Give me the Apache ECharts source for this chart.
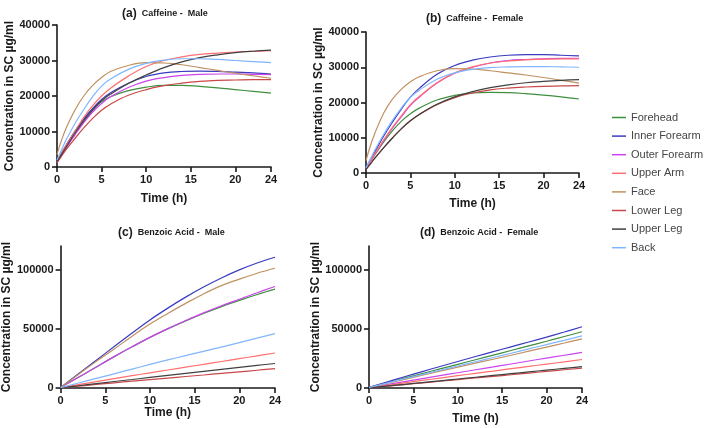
<!DOCTYPE html>
<html><head><meta charset="utf-8">
<script src="https://cdn.jsdelivr.net/npm/echarts@6/dist/echarts.min.js"></script>
<style>html,body{margin:0;padding:0;background:#fff}#c{width:709px;height:428px}</style>
</head><body><div id="c"></div>
<script>
// ---- data ----
const sites = ['Forehead','Inner Forearm','Outer Forearm','Upper Arm','Face','Lower Leg','Upper Leg','Back'];
const siteColors = ['#3f8f3f','#3b3bc0','#cc44ee','#ff6f6f','#c09060','#c84848','#404040','#80b6ff'];

const timeCaffeine = [0,0.5,1,2,3,4,5,6,8,10,12,14,16,18,20,22,24];
const timeBenzoic  = [0,2,4,6,8,10,12,14,16,18,20,22,24];
const xTicks = [0,5,10,15,20,24];
const yTicksCaffeine = [0,10000,20000,30000,40000];
const yTicksBenzoic = [0,50000,100000];

// rows follow the order of `sites`
const caffeineMale = [
  [1500,3800,6000,10000,13500,16300,18400,19800,21500,22500,23000,23000,22700,22300,21800,21300,20800],
  [1500,3800,6000,10000,13500,16500,19000,20900,23600,25500,26500,26900,27000,26900,26700,26500,26200],
  [1300,3300,5300,9000,12500,15500,17900,19800,22400,24200,25200,25800,26100,26200,26200,26100,26000],
  [1500,3800,6000,10000,14000,17300,20000,22200,25600,28300,30000,31000,31700,32100,32400,32600,32800],
  [3500,7500,10800,16000,20000,23000,25200,26900,28600,29400,29300,28800,28000,27200,26400,25700,25000],
  [1200,3000,4800,8000,11000,13700,16000,17700,20200,21800,22900,23600,24100,24400,24500,24600,24600],
  [1500,3500,5500,9500,13000,16000,18700,20500,23500,25900,28000,29600,30800,31600,32200,32600,32900],
  [2000,4800,7500,12200,16200,19800,22800,24800,27500,29200,30100,30500,30500,30300,30000,29700,29400]
];
const caffeineFemale = [
  [1300,3300,5200,8800,12000,14700,16800,18400,20700,22000,22700,22900,22800,22500,22100,21600,21000],
  [1500,3800,6000,10500,14500,18200,21500,24000,28000,30500,32000,32900,33400,33600,33600,33400,33200],
  [1200,3300,5300,9200,12800,16000,19200,21500,25500,28300,30000,31200,31900,32200,32400,32500,32500],
  [1300,3400,5500,9400,13000,16300,19400,21700,25600,28400,30100,31200,31800,32100,32300,32400,32400],
  [3500,7800,11300,17000,21000,23800,25900,27300,29000,29600,29500,29000,28400,27800,27100,26300,25500],
  [1000,2600,4200,7200,10000,12600,14800,16600,19400,21400,22700,23600,24100,24400,24600,24700,24800],
  [1000,2600,4200,7200,10000,12600,14800,16600,19500,21600,23100,24200,25000,25600,26000,26300,26500],
  [1500,4000,6500,11000,15000,18500,21500,23500,26600,28400,29400,29900,30100,30200,30200,30100,30000]
];
const benzoicMale = [
  [500,9000,17800,26500,34800,42800,50000,56700,63000,68800,74000,79000,83500],
  [500,12000,23500,35000,46500,57500,67500,76800,85300,93000,99800,105600,110500],
  [500,9000,17800,26500,34800,42800,50200,57000,63500,69500,75000,80500,85800],
  [200,2800,5400,7900,10400,12800,15200,17600,20000,22400,24800,27200,29600],
  [500,11500,22500,33000,43800,54000,63000,71500,79500,86500,92000,97000,101200],
  [200,1600,3000,4400,5800,7100,8400,9700,11000,12400,13700,15000,16400],
  [200,1900,3700,5500,7200,8900,10600,12300,14000,15700,17400,19100,20700],
  [300,4200,8200,12000,16000,19900,23700,27400,31000,34600,38300,42200,46000]
];
const benzoicFemale = [
  [400,4300,8300,12200,16100,20000,23900,27800,31700,35600,39500,43500,47500],
  [500,5000,9500,13900,18200,22400,26600,30700,34800,38900,43000,47300,51800],
  [300,2800,5400,7900,10400,12900,15400,17800,20300,22800,25300,27700,30100],
  [200,2200,4300,6400,8400,10400,12400,14300,16300,18200,20200,22100,24100],
  [400,3800,7300,10800,14300,17700,21000,24300,27700,31100,34600,38000,41500],
  [100,1500,2900,4300,5700,7100,8500,9800,11200,12600,14000,15400,16800],
  [100,1600,3100,4600,6100,7600,9100,10600,12100,13600,15100,16600,18000],
  [400,4100,7800,11400,15000,18600,22200,25800,29400,33000,36700,40300,44000]
];

const panels = [
  {tag:'(a)', label:'Caffeine -  Male', time:timeCaffeine, rows:caffeineMale, yTicks:yTicksCaffeine, yMax:40000},
  {tag:'(b)', label:'Caffeine -  Female', time:timeCaffeine, rows:caffeineFemale, yTicks:yTicksCaffeine, yMax:40000},
  {tag:'(c)', label:'Benzoic Acid -  Male', time:timeBenzoic, rows:benzoicMale, yTicks:yTicksBenzoic, yMax:120000},
  {tag:'(d)', label:'Benzoic Acid -  Female', time:timeBenzoic, rows:benzoicFemale, yTicks:yTicksBenzoic, yMax:120000}
];

// ---- layout / style ----
const FONT = '"Liberation Sans", Arial, sans-serif';
const grids = [
  {left:57, top:25, width:214, height:142},
  {left:366, top:32, width:213, height:141},
  {left:60, top:246, width:215, height:142},
  {left:369, top:246, width:213, height:142}
];
const titlePos = [{left:117, top:0},{left:421, top:5},{left:113, top:219},{left:415, top:219}];
const xNameGap = [26, 25, 18, 25];
const yNameGap = [37, 39, 46, 44];

const axisLineStyle = {color:'#1a1a1a', width:1.6};
const option = {
  animation:false,
  backgroundColor:'#fff',
  textStyle:{fontFamily:FONT},
  title: panels.map((p,i)=>({
    left:titlePos[i].left, top:titlePos[i].top,
    text:'{t|'+p.tag+'} {s|'+p.label+'}',
    textStyle:{rich:{
      t:{fontFamily:FONT,fontWeight:'bold',fontSize:12,color:'#1a1a1a'},
      s:{fontFamily:FONT,fontWeight:'bold',fontSize:9,color:'#1a1a1a'}
    }}
  })),
  legend:{
    orient:'vertical', left:612, top:111, padding:0, itemWidth:14, itemHeight:1.5, itemGap:5.6,
    icon:'rect',
    data:sites,
    textStyle:{fontFamily:FONT,fontSize:11,color:'#444',lineHeight:13}
  },
  grid: grids.map(g=>Object.assign({containLabel:false}, g)),
  xAxis: panels.map((p,i)=>({
    type:'value', gridIndex:i, min:0, max:24,
    name:'Time (h)', nameLocation:'middle', nameGap:xNameGap[i],
    nameTextStyle:{fontFamily:FONT,fontWeight:'bold',fontSize:12,color:'#1a1a1a'},
    axisLine:{show:true,onZero:false,lineStyle:axisLineStyle},
    axisTick:{show:true,length:5,lineStyle:axisLineStyle,customValues:xTicks},
    axisLabel:{fontFamily:FONT,fontWeight:'bold',fontSize:11,color:'#1a1a1a',margin:7,customValues:xTicks,
      formatter:v=>String(v)},
    splitLine:{show:false}
  })),
  yAxis: panels.map((p,i)=>({
    type:'value', gridIndex:i, min:0, max:p.yMax,
    name:'Concentration in SC µg/ml', nameLocation:'middle', nameGap:yNameGap[i], nameRotate:90,
    nameTextStyle:{fontFamily:FONT,fontWeight:'bold',fontSize:12,color:'#1a1a1a'},
    axisLine:{show:true,onZero:false,lineStyle:axisLineStyle},
    axisTick:{show:true,length:5,lineStyle:axisLineStyle,customValues:p.yTicks},
    axisLabel:{fontFamily:FONT,fontWeight:'bold',fontSize:11,color:'#1a1a1a',margin:7,customValues:p.yTicks,
      formatter:v=>String(v)},
    splitLine:{show:false}
  })),
  series: []
};
panels.forEach((p,pi)=>{
  sites.forEach((s,si)=>{
    option.series.push({
      type:'line', name:s, xAxisIndex:pi, yAxisIndex:pi,
      data:p.time.map((t,j)=>[t,p.rows[si][j]]),
      symbol:'none', smooth:0.4,
      color:siteColors[si],
      itemStyle:{color:siteColors[si]},
      lineStyle:{width:1.2,color:siteColors[si]}
    });
  });
});
const chart = echarts.init(document.getElementById('c'), null, {renderer:'canvas'});
chart.setOption(option);
</script></body></html>
